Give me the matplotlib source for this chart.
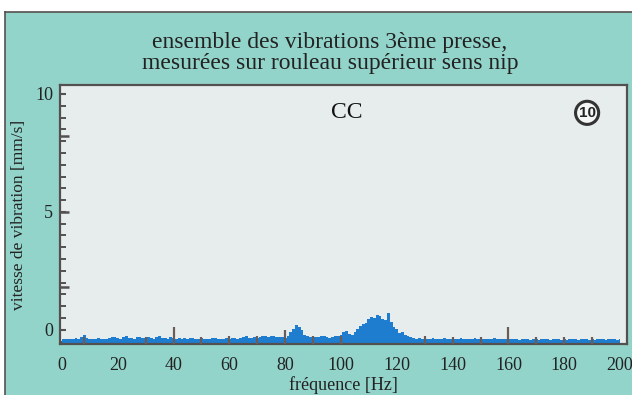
import matplotlib
matplotlib.use("Agg")
import matplotlib.pyplot as plt
from matplotlib.lines import Line2D
from matplotlib.patches import Rectangle
from matplotlib.ticker import MultipleLocator
import matplotlib.transforms as mtransforms

plt.rcParams['font.family'] = ['Liberation Serif', 'DejaVu Serif']

# spectrum amplitude [mm/s] at 1 Hz steps, 0..200 Hz
freqs = list(range(0, 201))
amps = [
    -0.40, -0.40, -0.38, -0.40, -0.38, -0.36, -0.38, -0.30, -0.22, -0.34,
    -0.38, -0.40, -0.38, -0.36, -0.38, -0.40, -0.37, -0.35, -0.30, -0.32,
    -0.36, -0.38, -0.30, -0.28, -0.34, -0.36, -0.38, -0.32, -0.30, -0.36,
    -0.34, -0.30, -0.36, -0.38, -0.32, -0.28, -0.34, -0.36, -0.38, -0.30,
    -0.34, -0.38, -0.36, -0.40, -0.36, -0.38, -0.34, -0.36, -0.38, -0.40,
    -0.36, -0.38, -0.40, -0.38, -0.36, -0.34, -0.38, -0.40, -0.38, -0.36,
    -0.38, -0.36, -0.34, -0.38, -0.36, -0.30, -0.26, -0.34, -0.36, -0.32,
    -0.34, -0.30, -0.28, -0.26, -0.32, -0.28, -0.24, -0.30, -0.32, -0.30,
    -0.34, -0.28, -0.10, 0.05, 0.22, 0.12, -0.02, -0.20, -0.28, -0.30,
    -0.26, -0.30, -0.32, -0.28, -0.24, -0.30, -0.34, -0.30, -0.28, -0.26,
    -0.22, -0.10, -0.05, -0.18, -0.22, -0.10, 0.05, 0.15, 0.25, 0.30,
    0.45, 0.55, 0.50, 0.65, 0.60, 0.45, 0.40, 0.72, 0.35, 0.10,
    0.05, -0.12, -0.08, -0.20, -0.28, -0.32, -0.36, -0.38, -0.36, -0.38,
    -0.38, -0.40, -0.38, -0.36, -0.38, -0.40, -0.38, -0.36, -0.38, -0.40,
    -0.38, -0.40, -0.38, -0.36, -0.38, -0.40, -0.38, -0.40, -0.36, -0.38,
    -0.38, -0.40, -0.38, -0.40, -0.38, -0.36, -0.38, -0.40, -0.38, -0.40,
    -0.38, -0.40, -0.38, -0.40, -0.42, -0.40, -0.38, -0.40, -0.42, -0.40,
    -0.40, -0.42, -0.40, -0.38, -0.40, -0.42, -0.40, -0.38, -0.40, -0.42,
    -0.40, -0.42, -0.40, -0.38, -0.40, -0.42, -0.40, -0.38, -0.40, -0.42,
    -0.40, -0.42, -0.40, -0.38, -0.40, -0.42, -0.40, -0.38, -0.40, -0.42,
    -0.40,
]

# harmonic marker lines (dark)
mark_freqs = [8, 30, 40, 50, 60, 70, 80, 90, 100, 130, 140, 150, 160, 170, 180, 190]
mark_tops = [-0.30, -0.30, 0.10, -0.30, -0.28, -0.28, 0.00, -0.28, -0.25,
             -0.28, -0.30, -0.30, 0.10, -0.30, -0.30, -0.30]

x_ticks = [0, 20, 40, 60, 80, 100, 120, 140, 160, 180, 200]
y_ticks = [0, 5, 10]
y_long_marks = [1.8, 5, 8.2]

title = "ensemble des vibrations 3ème presse,\nmesurées sur rouleau supérieur sens nip"

teal = '#92d4ca'
panel = '#e7eded'
edge = '#555050'
blue = '#1f7dd0'

fig = plt.figure(figsize=(6.32, 3.95), dpi=100, facecolor='white')

# teal card with a dark border on top and left
fig.add_artist(Rectangle((5 / 632, 0), 1, (395 - 12) / 395, transform=fig.transFigure,
                         facecolor=teal, edgecolor='none', zorder=-10))
fig.add_artist(Line2D([5 / 632, 5 / 632], [0, (395 - 12) / 395], transform=fig.transFigure,
                      color=edge, lw=1.2))
fig.add_artist(Line2D([5 / 632, 1], [(395 - 12) / 395, (395 - 12) / 395],
                      transform=fig.transFigure, color=edge, lw=1.2))

ax = fig.add_axes([60 / 632, (395 - 344) / 395, 567 / 632, (344 - 85) / 395])
ax.set_facecolor(panel)
bottom = -0.6
ax.set_xlim(-0.7, 202.5)
ax.set_ylim(bottom, 10.38)

ax.fill_between(freqs, bottom, amps, step='mid', color=blue, lw=0, zorder=2)
ax.vlines(mark_freqs, bottom, mark_tops, color='#6a5d58', lw=1.6, zorder=3)

for side in ['left', 'right', 'top', 'bottom']:
    ax.spines[side].set_color(edge)
    ax.spines[side].set_linewidth(1.6)

ax.set_xticks(x_ticks)
ax.set_yticks(y_ticks)
ax.yaxis.set_minor_locator(MultipleLocator(0.5))
ax.tick_params(axis='x', length=0, labelsize=13, colors='#222', pad=9)
ax.tick_params(axis='y', which='major', direction='in', length=4, width=1.5,
               color=edge, labelsize=13, labelcolor='#222', pad=5)
ax.tick_params(axis='y', which='minor', direction='in', length=4, width=1.4, color=edge)

# longer inner marks on the y axis
trans = mtransforms.blended_transform_factory(ax.transAxes, ax.transData)
for yv in y_long_marks:
    ax.plot([0, 0.016], [yv, yv], transform=trans, color=edge, lw=1.8,
            solid_capstyle='butt', clip_on=False, zorder=4)

ax.set_xlabel("fréquence [Hz]", fontsize=13, color='#222', labelpad=2)
ax.set_ylabel("vitesse de vibration [mm/s]", fontsize=12.5, color='#222', labelpad=6)

fig.text(0.522, 0.865, title, ha='center', va='center', fontsize=17,
         color='#222', linespacing=1.0)

ax.text(102, 9.2, "CC", ha='center', va='center', fontsize=17, color='#111')
ax.text(188.2, 9.2, "10", ha='center', va='center', fontsize=11, fontweight='bold',
        family=['Liberation Sans', 'DejaVu Sans'], color='#222',
        bbox=dict(boxstyle='circle,pad=0.2', fc='#f4f6f6', ec='#333', lw=2.2))

fig.savefig("out.png", dpi=100, facecolor=fig.get_facecolor())
